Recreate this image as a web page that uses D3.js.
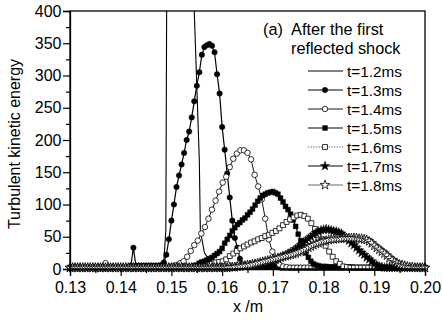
<!DOCTYPE html>
<html>
<head>
<meta charset="utf-8">
<script src="https://cdn.jsdelivr.net/npm/d3@7"></script>
<style>
  body { margin: 0; background: #fff; }
  text { font-family: "Liberation Sans", Arial, sans-serif; fill: #000; }
</style>
</head>
<body>
<div id="chart"></div>
<script>
// t=1.2ms has no markers, read as (x, k) pairs
const x12 = [0.130, 0.140, 0.1475, 0.1480, 0.1485, 0.1489, 0.1491, 0.1500, 0.1530, 0.1538, 0.1545, 0.1555, 0.1557, 0.1565, 0.1576, 0.1590, 0.1600, 0.2000];
const k12 = [2, 2, 2, 3, 12, 60, 500, 900, 900, 560, 400, 169, 60, 25, 12, 3, 2, 2];

// marked series on a regular x grid: start 0.13, step given per series
const step13 = 0.0005;
const k13 = [
  2, 2, 2, 2, 2, 2, 2, 2, 2, 2,
  2, 2, 2, 2, 2, 2, 2, 2, 2, 2,
  2, 2, 2, 3, 5, 33, 5, 5, 5, 5,
  5, 5, 5, 5, 5, 5, 6, 10, 22, 46,
  75, 100, 127, 145, 162, 180, 200, 213, 235, 260,
  284, 305, 332, 344, 347, 349, 346, 336, 302, 272,
  220, 185, 148, 111, 75, 48, 33, 16, 7, 4,
  3, 3, 3, 3, 3, 3, 3, 3, 3, 4,
  5, 4, 3, 2, 2, 2, 2, 2, 2, 2,
  2, 2, 2, 2, 2, 2, 2, 2, 2, 2,
  2, 2, 2, 2, 2, 2, 2, 2, 2, 2,
  2, 2, 2, 2, 2, 2, 2, 2, 2, 2,
  2, 2, 2, 2, 2, 2, 2, 2, 2, 2,
  2, 2, 2, 2, 2, 2, 2, 2, 2, 2,
  2
];

const step14 = 0.0007;
const k14 = [
  2, 2, 2, 2, 2, 2, 2, 2, 2, 3,
  9, 3, 2, 2, 2, 2, 2, 2, 2, 2,
  2, 2, 2, 2, 2, 2, 2, 2, 2, 4,
  6, 9, 12, 19, 28, 37, 44, 55, 65, 78,
  92, 106, 120, 134, 143, 158, 171, 179, 184, 184,
  180, 170, 146, 128, 108, 78, 46, 27, 14, 7,
  4, 3, 2, 2, 2, 2, 2, 2, 2, 2,
  2, 2, 2, 2, 2, 2, 2, 2, 2, 2,
  2, 2, 2, 2, 2, 2, 2, 2, 2, 2,
  2, 2, 2, 2, 2, 2, 2, 2, 2, 2,
  2
];

const step15 = 0.0005;
const k15 = [
  2, 2, 2, 2, 2, 2, 2, 2, 2, 2,
  2, 2, 2, 2, 2, 2, 2, 2, 2, 2,
  2, 2, 2, 2, 2, 2, 2, 2, 2, 2,
  2, 2, 2, 2, 2, 2, 2, 2, 2, 2,
  2, 2, 2, 2, 2, 2, 3, 3, 4, 5,
  6, 9, 11, 12, 14, 16, 18, 21, 24, 27,
  32, 40, 46, 52, 59, 64, 69, 72, 76, 79,
  84, 88, 93, 99, 105, 110, 114, 116, 118, 119,
  120, 118, 116, 110, 104, 97, 92, 85, 76, 66,
  54, 44, 33, 25, 18, 12, 8, 6, 5, 4,
  4, 4, 3, 3, 3, 3, 3, 3, 3, 3,
  3, 3, 2, 2, 2, 2, 2, 2, 2, 2,
  2, 2, 2, 2, 2, 2, 2, 2, 2, 2,
  2, 2, 2, 2, 2, 2, 2, 2, 2, 2,
  2
];

const step16 = 0.0007;
const k16 = [
  2, 2, 2, 2, 2, 2, 2, 2, 2, 2,
  2, 2, 2, 2, 2, 2, 2, 2, 2, 2,
  2, 2, 2, 2, 2, 2, 2, 2, 2, 2,
  2, 2, 2, 2, 2, 2, 2, 3, 4, 6,
  8, 10, 11, 12, 15, 20, 24, 28, 32, 35,
  38, 41, 43, 46, 48, 51, 53, 56, 59, 63,
  68, 73, 77, 80, 83, 84, 82, 78, 71, 62,
  53, 46, 36, 27, 19, 12, 8, 4, 3, 2,
  2, 2, 2, 2, 2, 2, 2, 2, 2, 2,
  2, 2, 2, 2, 2, 2, 2, 2, 2, 2,
  2
];

const step17 = 0.0005;
const k17 = [
  2, 2, 2, 2, 2, 2, 2, 2, 2, 2,
  2, 2, 2, 2, 2, 2, 2, 2, 2, 2,
  2, 2, 2, 2, 2, 2, 2, 2, 2, 2,
  2, 2, 2, 2, 2, 2, 2, 2, 2, 2,
  2, 2, 2, 2, 2, 2, 2, 2, 2, 2,
  2, 2, 2, 2, 2, 2, 2, 2, 2, 2,
  2, 2, 2, 3, 3, 3, 4, 4, 5, 5,
  6, 6, 7, 7, 8, 8, 9, 10, 11, 12,
  13, 14, 16, 18, 20, 22, 24, 26, 28, 31,
  34, 37, 41, 44, 47, 50, 53, 56, 58, 60,
  61, 62, 61, 60, 59, 58, 57, 55, 51, 48,
  44, 40, 37, 33, 29, 25, 22, 18, 15, 12,
  8, 6, 4, 3, 2, 2, 2, 2, 2, 2,
  2, 2, 2, 2, 2, 2, 2, 2, 2, 2,
  2
];

const step18 = 0.0005;
const k18 = [
  2, 2, 2, 2, 2, 2, 2, 2, 2, 2,
  2, 2, 2, 2, 2, 2, 2, 2, 2, 2,
  2, 2, 2, 2, 2, 2, 2, 2, 2, 2,
  2, 2, 2, 2, 2, 2, 2, 2, 2, 2,
  2, 2, 2, 2, 2, 2, 2, 2, 2, 2,
  2, 2, 2, 2, 2, 2, 2, 2, 2, 2,
  2, 2, 2, 3, 3, 3, 4, 4, 5, 5,
  6, 6, 7, 8, 9, 10, 11, 12, 13, 14,
  15, 16, 17, 18, 19, 20, 21, 22, 23, 24,
  26, 27, 29, 31, 33, 35, 37, 39, 40, 42,
  43, 44, 45, 46, 46, 47, 47, 47, 48, 48,
  48, 48, 48, 48, 47, 47, 46, 45, 43, 40,
  36, 33, 30, 27, 24, 21, 17, 14, 11, 9,
  7, 6, 5, 4, 3, 3, 2, 2, 2, 2,
  2
];

const xTicks = [0.13, 0.14, 0.15, 0.16, 0.17, 0.18, 0.19, 0.20];
const yTicks = [0, 50, 100, 150, 200, 250, 300, 350, 400];
const legendLabels = ["t=1.2ms", "t=1.3ms", "t=1.4ms", "t=1.5ms", "t=1.6ms", "t=1.7ms", "t=1.8ms"];

function main() {
    const width = 442, height = 321;
    const margin = {top: 11, right: 17, bottom: 52, left: 70};
    const iw = width - margin.left - margin.right,
          ih = height - margin.top - margin.bottom;

    const svg = d3.select("#chart").append("svg")
        .attr("width", width)
        .attr("height", height);

    const g = svg.append("g")
        .attr("transform", `translate(${margin.left},${margin.top})`);

    const x = d3.scaleLinear().domain([0.13, 0.20]).range([0, iw]);
    const y = d3.scaleLinear().domain([0, 400]).range([ih, 0]);

    g.append("clipPath").attr("id", "clip")
        .append("rect").attr("width", iw).attr("height", ih);

    // build point lists
    const grid = (vals, step) => vals.map((v, i) => ({x: 0.13 + i * step, k: v}));
    const series = [
        {pts: x12.map((v, i) => ({x: v, k: k12[i]})), sym: null, dash: null, col: "#000", sw: 1.1},
        {pts: grid(k13, step13), sym: "circle", fill: "#000", dash: null, col: "#000", sw: 1.2},
        {pts: grid(k14, step14), sym: "circle", fill: "#fff", dash: null, col: "#000", sw: 0.9},
        {pts: grid(k15, step15), sym: "square", fill: "#000", dash: null, col: "#000", sw: 1.2},
        {pts: grid(k16, step16), sym: "square", fill: "#fff", dash: "1.2,1.4", col: "#333", sw: 0.8},
        {pts: grid(k17, step17), sym: "star", fill: "#000", dash: null, col: "#000", sw: 1.0},
        {pts: grid(k18, step18), sym: "star", fill: "#fff", dash: null, col: "#444", sw: 0.8}
    ];

    const line = d3.line().x(d => x(d.x)).y(d => y(d.k));

    const symbolPath = {
        circle: d3.symbol(d3.symbolCircle, 24)(),
        square: d3.symbol(d3.symbolSquare, 24)(),
        star: d3.symbol(d3.symbolStar, 28)()
    };

    function drawMarker(sel, s) {
        sel.append("path")
            .attr("d", symbolPath[s.sym])
            .attr("fill", s.fill)
            .attr("stroke", "#000")
            .attr("stroke-width", s.fill === "#fff" ? 0.8 : 0.4);
    }

    series.forEach(s => {
        g.append("path")
            .datum(s.pts)
            .attr("clip-path", "url(#clip)")
            .attr("fill", "none")
            .attr("stroke", s.col)
            .attr("stroke-width", s.sw)
            .attr("stroke-dasharray", s.dash)
            .attr("d", line);
        if (s.sym) {
            g.append("g").selectAll("g")
                .data(s.pts.filter(d => d.k <= 400))
                .join("g")
                .attr("transform", d => `translate(${x(d.x)},${y(d.k)})`)
                .each(function() { drawMarker(d3.select(this), s); });
        }
    });

    // frame
    g.append("rect")
        .attr("width", iw).attr("height", ih)
        .attr("fill", "none").attr("stroke", "#000").attr("stroke-width", 1.3);

    // axes: major and minor ticks
    const xMinor = xTicks.slice(0, -1).map(v => v + 0.005);
    const yMinor = yTicks.slice(0, -1).map(v => v + 25);

    g.append("g")
        .attr("transform", `translate(0,${ih})`)
        .call(d3.axisBottom(x).tickValues(xMinor).tickSize(4).tickFormat(""))
        .call(a => a.select(".domain").remove());
    const xa = g.append("g")
        .attr("transform", `translate(0,${ih})`)
        .call(d3.axisBottom(x).tickValues(xTicks).tickSize(7).tickPadding(6).tickFormat(d3.format(".2f")));
    xa.selectAll("text").attr("font-size", "16px").attr("font-family", null);

    g.append("g")
        .call(d3.axisLeft(y).tickValues(yMinor).tickSize(4).tickFormat(""))
        .call(a => a.select(".domain").remove());
    const ya = g.append("g")
        .call(d3.axisLeft(y).tickValues(yTicks).tickSize(7).tickPadding(1.5));
    ya.selectAll("text").attr("font-size", "16px").attr("font-family", null);

    svg.selectAll(".tick line").attr("stroke-width", 1.2);
    svg.selectAll(".domain").attr("stroke-width", 1.3);

    // axis titles
    svg.append("text")
        .attr("x", 248).attr("y", 312)
        .attr("text-anchor", "middle")
        .attr("font-size", "16px")
        .text("x /m");

    svg.append("text")
        .attr("transform", "translate(20,144) rotate(-90)")
        .attr("text-anchor", "middle")
        .attr("font-size", "16px")
        .text("Turbulent kinetic energy");

    // panel title
    svg.append("text")
        .attr("x", 263).attr("y", 35)
        .attr("font-size", "16.3px")
        .attr("xml:space", "preserve")
        .style("white-space", "pre")
        .text("(a)  After the first");
    svg.append("text")
        .attr("x", 291).attr("y", 54)
        .attr("font-size", "16.3px")
        .text("reflected shock");

    // legend
    const lg = svg.append("g");
    series.forEach((s, i) => {
        const cy = 71 + i * 19;
        lg.append("line")
            .attr("x1", 308).attr("x2", 343)
            .attr("y1", cy).attr("y2", cy)
            .attr("stroke", s.col)
            .attr("stroke-width", s.sw)
            .attr("stroke-dasharray", s.dash);
        if (s.sym) {
            const m = lg.append("g").attr("transform", `translate(325,${cy})`);
            drawMarker(m, s);
        }
        lg.append("text")
            .attr("x", 347).attr("y", cy + 5.5)
            .attr("font-size", "15.3px")
            .text(legendLabels[i]);
    });
}

main();
</script>
</body>
</html>
